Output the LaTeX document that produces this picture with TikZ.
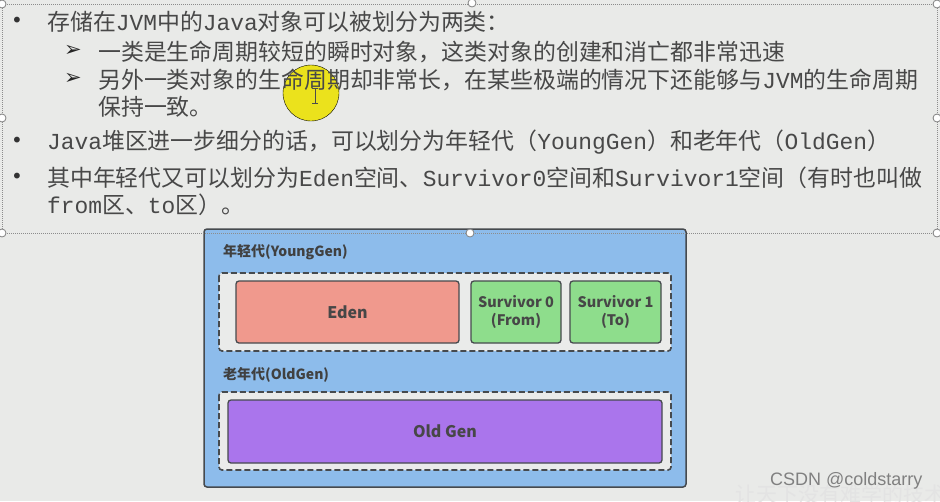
\documentclass[tikz,border=0pt]{standalone}
\usepackage{fontspec}
\setmainfont{Noto Sans CJK SC}
\newfontfamily\monofont{Liberation Mono}
\newfontfamily\symfont{DejaVu Sans}
\newfontfamily\markfont{Liberation Sans}
\usepackage{tikz}
\usetikzlibrary{calc}
\definecolor{slidebg}{RGB}{233,234,232}
\definecolor{slidetext}{RGB}{72,72,72}
\definecolor{heapblue}{RGB}{141,188,235}
\definecolor{genfill}{RGB}{234,235,234}
\definecolor{edenred}{RGB}{240,153,141}
\definecolor{survgreen}{RGB}{142,221,140}
\definecolor{oldpurple}{RGB}{170,117,236}
\definecolor{boxline}{RGB}{70,74,78}
\def\jv#1{{\monofont #1}}
\tikzset{
  body/.style={anchor=west, inner sep=0pt, text=slidetext, font=\fontsize{22.9}{27}\selectfont},
  dot/.style={inner sep=0pt, text=black!80, font=\symfont\fontsize{20}{22}\selectfont},
  subarrow/.style={inner sep=0pt, text=black!85, font=\symfont\fontsize{21}{23}\selectfont},
  heapbox/.style={fill=heapblue, draw=boxline, line width=1.5pt, rounded corners=3pt},
  genbox/.style={fill=genfill, draw=boxline, line width=1.6pt, dash pattern=on 6pt off 3pt, rounded corners=3pt},
  genlabel/.style={anchor=west, inner sep=0pt, text=black!75, font=\bfseries\fontsize{14}{16}\selectfont},
  area/.style={draw=boxline, line width=1.3pt, rounded corners=3pt, text=black!72,
    minimum height=62pt, align=center, font=\bfseries\fontsize{14.5}{18}\selectfont},
  frame/.style={draw=black!45, line width=0.6pt, dash pattern=on 1pt off 1pt},
  grip/.style={fill=white, draw=black!50, line width=0.8pt},
  highlight/.style={fill={rgb,255:red,236;green,226;blue,18}, opacity=0.95},
  cursor/.style={draw=black!70, line width=0.8pt}
}

\begin{document}
\begin{tikzpicture}[x=1pt,y=-1pt]
		%%%%% START %%%%%
		
		\useasboundingbox[fill=slidebg] (0,0) rectangle (940,501);
		
		\node[anchor=west, inner sep=0pt, text=black!11, font=\fontsize{21}{22}\selectfont] (motto) at (735,494) {让天下没有难学的技术};
		
		\draw[highlight] (311,93) circle (28pt);
		
		\node[dot] (b1) at (17,22) {•};
		\node[body] (l1) at (47,22) {存储在\jv{JVM}中的\jv{Java}对象可以被划分为两类：};
		\node[subarrow] (a1) at (73,51) {➢};
		\node[body] (l2) at (98,52) {一类是生命周期较短的瞬时对象，这类对象的创建和消亡都非常迅速};
		\node[subarrow] (a2) at (73,79) {➢};
		\node[body] (l3) at (98,80) {另外一类对象的生命周期却非常长，在某些极端的情况下还能够与\jv{JVM}的生命周期};
		\node[body] (l4) at (98,107) {保持一致。};
		\node[dot] (b2) at (17,142) {•};
		\node[body] (l5) at (47,142) {\jv{Java}堆区进一步细分的话，可以划分为年轻代（\jv{YoungGen}）和老年代（\jv{OldGen}）};
		\node[dot] (b3) at (17,178) {•};
		\node[body] (l6) at (47,178) {其中年轻代又可以划分为\jv{Eden}空间、\jv{Survivor0}空间和\jv{Survivor1}空间（有时也叫做};
		\node[body] (l7) at (47,205) {\jv{from}区、\jv{to}区）。};
		
		\draw[cursor] (312,88) -- (318,88) (315,88) -- (315,103) (312,103) -- (318,103);
		
		\draw[heapbox] (204,229) rectangle (686,487);
		
		\node[genlabel] (younglbl) at (223,252) {年轻代(YoungGen)};
		\draw[genbox] (219,273) rectangle (671,351);
		\node[area, fill=edenred, minimum width=223pt, font=\bfseries\fontsize{16}{18}\selectfont] (eden) at (347.5,312) {Eden};
		\node[area, fill=survgreen, minimum width=90pt] (s0) at (516,312) {Survivor 0\\(From)};
		\node[area, fill=survgreen, minimum width=91pt] (s1) at (615.5,312) {Survivor 1\\(To)};
		
		\node[genlabel] (oldlbl) at (223,375) {老年代(OldGen)};
		\draw[genbox] (219,392) rectangle (671,470);
		\node[area, fill=oldpurple, minimum width=434pt, minimum height=63pt, font=\bfseries\fontsize{16}{18}\selectfont] (oldgen) at (445,431.5) {Old Gen};
		
		\draw[frame] (2,4) rectangle (937,233);
		\foreach \gx/\gy in {2/4, 472/3, 937/4, 2/118, 937/118, 2/233, 470/233, 937/233}
		\draw[grip] (\gx,\gy) circle (4pt);
		
		\node[anchor=west, inner sep=0pt, text=black!50, font=\markfont\fontsize{18}{20}\selectfont] (csdn) at (770,481) {CSDN @coldstarry};
		
		%%%%% END %%%%%
\end{tikzpicture}
\end{document}
